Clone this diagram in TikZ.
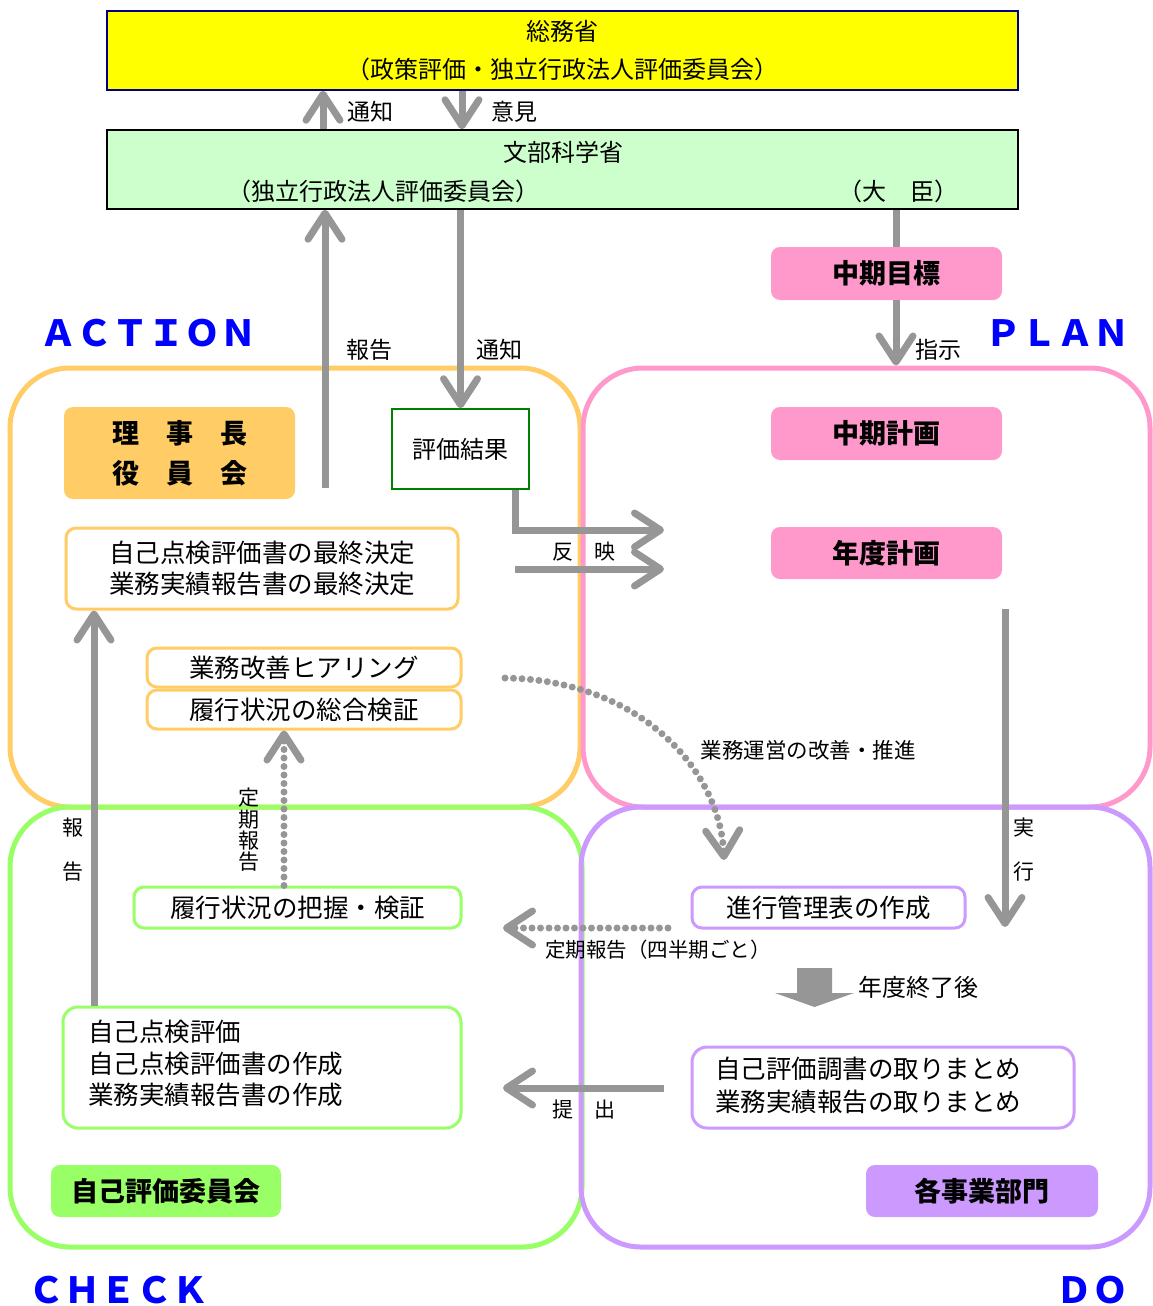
\documentclass[tikz,border=0pt]{standalone}
\usepackage{fontspec}
\setmainfont{Noto Sans CJK JP}
\usetikzlibrary{arrows.meta}
\definecolor{ygold}{HTML}{FFFF00}
\definecolor{navy}{HTML}{000080}
\definecolor{mint}{HTML}{CCFFCC}
\definecolor{orng}{HTML}{FFCC66}
\definecolor{pnk}{HTML}{FF99CC}
\definecolor{lgrn}{HTML}{99FF66}
\definecolor{prpl}{HTML}{CC99FF}
\definecolor{gry}{HTML}{969696}
\definecolor{dgrn}{HTML}{008000}
\definecolor{pblue}{HTML}{0000FF}
\begin{document}
\begin{tikzpicture}[x=1pt,y=-1pt,
  region/.style={rounded corners=60pt, line width=5pt, inner sep=0pt},
  fillbox/.style={rounded corners=9pt, inner sep=0pt, font=\bfseries\fontsize{27}{40}\selectfont},
  linebox/.style={rounded corners=10pt, line width=3pt, fill=white, inner sep=0pt, align=center, font=\fontsize{25.5}{31}\selectfont},
  lbl/.style={inner sep=0pt, font=\fontsize{23}{23}\selectfont},
  slbl/.style={inner sep=0pt, font=\fontsize{21}{21}\selectfont},
  pdca/.style={inner sep=0pt, text=pblue, font=\bfseries\fontsize{36}{36}\selectfont},
  garr/.style={draw=gry, line width=7pt, -{Straight Barb[length=26pt,width=34pt,round]}},
  gdot/.style={draw=gry, line width=7pt, line cap=round, dash pattern=on 0pt off 8.5pt, -{Straight Barb[length=26pt,width=34pt,round]}},
]
\useasboundingbox (0,0) rectangle (1153,1306);

% regions
\node[region, draw=orng, minimum width=570pt, minimum height=439pt] (actreg) at (295,587.5) {};
\node[region, draw=pnk, minimum width=567pt, minimum height=439pt] (planreg) at (866.5,587.5) {};
\node[region, draw=lgrn, minimum width=572pt, minimum height=440pt] (checkreg) at (296,1027) {};
\node[region, draw=prpl, minimum width=569pt, minimum height=440pt] (doreg) at (865.5,1027) {};

% PDCA labels
\node[pdca] (lact) at (148.5,333) {ＡＣＴＩＯＮ};
\node[pdca] (lplan) at (1057,333) {ＰＬＡＮ};
\node[pdca] (lcheck) at (118.5,1290) {ＣＨＥＣＫ};
\node[pdca] (ldo) at (1092.5,1290) {ＤＯ};

% top boxes
\node[draw=navy, line width=1.5pt, fill=ygold, minimum width=911pt, minimum height=79pt, inner sep=0pt, align=center, font=\fontsize{24}{38}\selectfont] (soumu) at (562.5,50.5) {総務省\\（政策評価・独立行政法人評価委員会）};
\node[draw=black, line width=1.5pt, fill=mint, minimum width=911pt, minimum height=79pt, inner sep=0pt] (monka) at (562.5,169.5) {};
\node[lbl, font=\fontsize{24}{24}\selectfont] (monkat) at (563,152) {文部科学省};
\node[lbl, font=\fontsize{24}{24}\selectfont] (iinkai) at (383,191) {（独立行政法人評価委員会）};
\node[lbl, font=\fontsize{24}{24}\selectfont] (daijin) at (898,191) {（大　臣）};

% coordinates
\coordinate (c323) at (323,0);
\coordinate (c462) at (462,0);
\coordinate (c896) at (896,0);
\coordinate (c515) at (515,0);
\coordinate (c94) at (94,0);
\coordinate (c284) at (284,0);
\coordinate (hokokuS) at (325,488);
\coordinate (hanei1) at (664,530);
\coordinate (hanei2S) at (515,569);
\coordinate (hanei2E) at (664,569);
\coordinate (jikkoS) at (1005,609);
\coordinate (jikkoE) at (1005,927);
\coordinate (teikiS) at (668,928);
\coordinate (teikiE) at (503,928);
\coordinate (teishutsuS) at (664,1088);
\coordinate (teishutsuE) at (503,1088);
\coordinate (curveS) at (505,678);
\coordinate (curveE) at (724,860);

% ACTION boxes
\node[fillbox, fill=orng, minimum width=231pt, minimum height=92pt, align=center] (rijicho) at (179.5,453) {理　事　長\\役　員　会};
\node[draw=dgrn, line width=1.5pt, fill=white, minimum width=137pt, minimum height=80pt, inner sep=0pt, font=\fontsize{24}{24}\selectfont] (kekka) at (460.5,449) {評価結果};
\node[linebox, draw=orng, minimum width=392pt, minimum height=81pt] (kettei) at (262,568.5) {自己点検評価書の最終決定\\業務実績報告書の最終決定};
\node[linebox, draw=orng, minimum width=314pt, minimum height=39pt] (hearing) at (304,667.5) {業務改善ヒアリング};
\node[linebox, draw=orng, minimum width=314pt, minimum height=39pt] (kensho) at (304,709.5) {履行状況の総合検証};

% PLAN boxes
\node[fillbox, fill=pnk, minimum width=231pt, minimum height=53pt] (mokuhyo) at (886.5,273.5) {中期目標};
\node[fillbox, fill=pnk, minimum width=231pt, minimum height=53pt] (keikaku) at (886.5,433.5) {中期計画};
\node[fillbox, fill=pnk, minimum width=231pt, minimum height=52pt] (nendo) at (886.5,553) {年度計画};

% CHECK boxes
\node[linebox, draw=lgrn, minimum width=327pt, minimum height=41pt] (haaku) at (297.5,907.5) {履行状況の把握・検証};
\node[linebox, draw=lgrn, rounded corners=15pt, minimum width=398pt, minimum height=121pt] (selfeval) at (262,1067.5) {};
\node[anchor=west, inner sep=0pt, align=left, font=\fontsize{25.5}{31.5}\selectfont] (selfevalt) at (88,1063.5) {自己点検評価\\自己点検評価書の作成\\業務実績報告書の作成};
\node[fillbox, fill=lgrn, minimum width=230pt, minimum height=52pt] (iinkai2) at (166,1191) {自己評価委員会};

% DO boxes
\node[linebox, draw=prpl, minimum width=273pt, minimum height=41pt] (shinko) at (828.5,907.5) {進行管理表の作成};
\node[linebox, draw=prpl, rounded corners=15pt, minimum width=382pt, minimum height=81pt] (chosho) at (883,1087.5) {};
\node[anchor=west, inner sep=0pt, align=left, font=\fontsize{25.5}{33}\selectfont] (chosht) at (715,1085.5) {自己評価調書の取りまとめ\\業務実績報告の取りまとめ};
\node[fillbox, fill=prpl, minimum width=232pt, minimum height=52pt] (bumon) at (982,1191) {各事業部門};

% arrows
\draw[garr] (monka.north -| c323) -- (soumu.south -| c323);
\draw[garr] (soumu.south -| c462) -- (monka.north -| c462);
\draw[garr] (hokokuS) -- (monka.south -| hokokuS);
\draw[garr] (monka.south -| kekka.north) -- (kekka.north);
\draw[draw=gry, line width=7pt] (monka.south -| c896) -- (mokuhyo.north -| c896);
\draw[garr] (mokuhyo.south -| c896) -- (planreg.north -| c896);
\draw[garr] (kekka.south -| c515) |- (hanei1);
\draw[garr] (hanei2S) -- (hanei2E);
\draw[garr] (jikkoS) -- (jikkoE);
\draw[garr] (selfeval.north -| c94) -- (kettei.south -| c94);
\draw[gdot] (haaku.north -| c284) -- (kensho.south -| c284);
\draw[gdot] (teikiS) -- (teikiE);
\draw[garr] (teishutsuS) -- (teishutsuE);
\draw[gdot] (curveS) .. controls (640,680) and (720,770) .. (curveE);
\fill[gry] (797,968) -- (832,968) -- (832,993) -- (854,993) -- (814.5,1007) -- (775,993) -- (797,993) -- cycle;

% labels
\node[lbl] (ltsuchi1) at (370,112) {通知};
\node[lbl] (liken) at (514,112) {意見};
\node[lbl] (lhokoku) at (369,350) {報告};
\node[lbl] (ltsuchi2) at (499,350) {通知};
\node[lbl] (lshiji) at (938,350) {指示};
\node[slbl] (lhanei) at (584,552) {反　映};
\node[slbl, font=\fontsize{21.5}{21.5}\selectfont] (lkaizen) at (808,750) {業務運営の改善・推進};
\node[slbl, align=center, font=\fontsize{21}{44}\selectfont] (lhokoku2) at (73,850) {報\\告};
\node[slbl, align=center, font=\fontsize{21}{44}\selectfont] (ljikko) at (1024,850) {実\\行};
\node[slbl, align=center, font=\fontsize{21}{21.3}\selectfont] (lteiki) at (249,830) {定\\期\\報\\告};
\node[slbl, font=\fontsize{20.5}{20.5}\selectfont] (lteiki2) at (658,950) {定期報告（四半期ごと）};
\node[lbl, font=\fontsize{24}{24}\selectfont] (lnendo) at (918,987) {年度終了後};
\node[slbl] (lteishutsu) at (584,1110) {提　出};
\end{tikzpicture}
\end{document}
